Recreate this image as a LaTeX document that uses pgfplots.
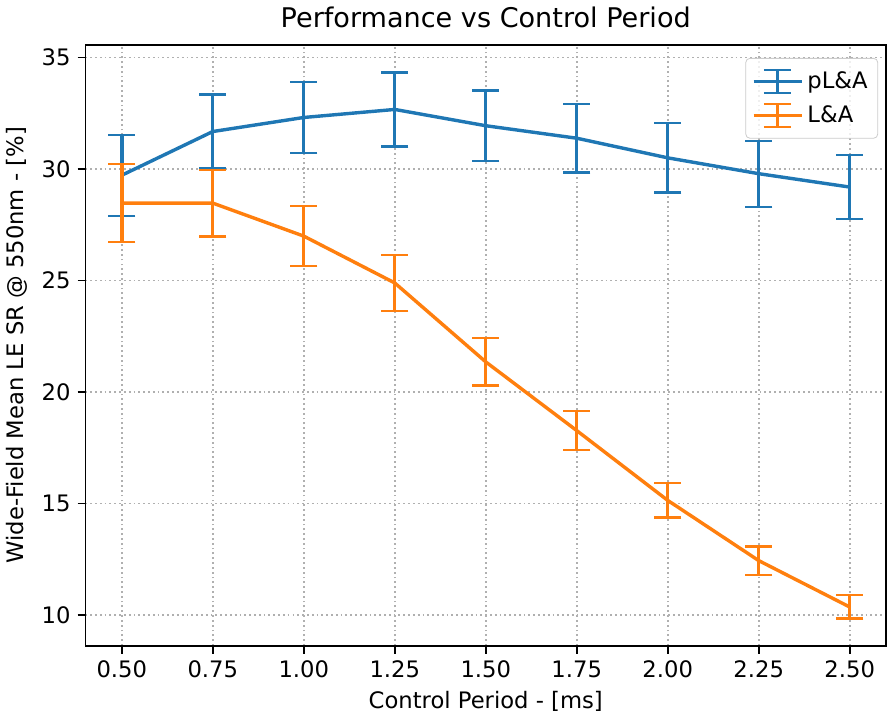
\documentclass[border=0pt]{standalone}
\usepackage{pgfplots}
\pgfplotsset{compat=1.18}
\usepackage{pgfplotstable}
\usepackage{fontspec}
\setmainfont{DejaVu Sans}

\definecolor{mplblue}{HTML}{1F77B4}
\definecolor{mplorange}{HTML}{FF7F0E}
\definecolor{mplgrid}{HTML}{B0B0B0}

% x = control period [ms], y = mean LE SR [%], e = error
\pgfplotstableread{
x    y     e
0.50 29.72 1.82
0.75 31.68 1.66
1.00 32.31 1.59
1.25 32.67 1.66
1.50 31.94 1.58
1.75 31.38 1.54
2.00 30.50 1.55
2.25 29.79 1.48
2.50 29.19 1.45
}\plaTable
\pgfplotstableread{
x    y     e
0.50 28.47 1.74
0.75 28.47 1.50
1.00 26.99 1.35
1.25 24.89 1.25
1.50 21.35 1.06
1.75 18.27 0.88
2.00 15.14 0.77
2.25 12.44 0.63
2.50 10.36 0.52
}\laTable

\begin{document}
\begin{tikzpicture}
\begin{axis}[
  scale only axis,
  width=399pt, height=299.5pt,
  xmin=0.4, xmax=2.6, ymin=8.62, ymax=35.57,
  xtick={0.5,0.75,1.0,1.25,1.5,1.75,2.0,2.25,2.5},
  ytick={10,15,20,25,30,35},
  xticklabel style={/pgf/number format/.cd, fixed, fixed zerofill, precision=2},
  /pgf/number format/assume math mode=true,
  tick label style={font=\fontsize{11.3}{13.5}\selectfont},
  label style={font=\fontsize{11.3}{13.5}\selectfont},
  title style={font=\fontsize{13.5}{16}\selectfont, yshift=-1pt},
  title={Performance vs Control Period},
  xlabel={Control Period - [ms]},
  ylabel={Wide-Field Mean LE SR @ 550nm - [\%]},
  axis line style={line width=0.9pt},
  tick align=outside, major tick length=3.9pt,
  tick style={line width=0.9pt, black},
  xtick pos=bottom, ytick pos=left,
  grid=major,
  major grid style={mplgrid, line width=0.9pt, dash pattern=on 0.9pt off 1.5pt},
  legend cell align=left,
  legend style={at={(0.99,0.978)}, anchor=north east,
    draw=black!20, rounded corners=2pt, fill=white, fill opacity=0.8, text opacity=1,
    font=\fontsize{11.3}{13.5}\selectfont, inner xsep=3pt, inner ysep=4.5pt,
    row sep=3pt},
  legend image code/.code={
    \draw[#1, line width=1.7pt] (0pt,0pt) -- (24pt,0pt);
    \draw[#1, line width=1.7pt] (12pt,-5.8pt) -- (12pt,5.8pt);
    \draw[#1, line width=1.1pt] (5.2pt,-5.8pt) -- (18.8pt,-5.8pt) (5.2pt,5.8pt) -- (18.8pt,5.8pt);
  },
]
\addplot[mplblue, line width=1.7pt, no markers,
  error bars/.cd, y dir=both, y explicit,
  error bar style={line width=1.7pt, mplblue},
  error mark options={rotate=90, mark size=6.8pt, line width=1.1pt, mplblue}]
  table[x=x, y=y, y error=e] {\plaTable};
\addlegendentry{pL\&A}
\addplot[mplorange, line width=1.7pt, no markers,
  error bars/.cd, y dir=both, y explicit,
  error bar style={line width=1.7pt, mplorange},
  error mark options={rotate=90, mark size=6.8pt, line width=1.1pt, mplorange}]
  table[x=x, y=y, y error=e] {\laTable};
\addlegendentry{L\&A}
\end{axis}
\end{tikzpicture}
\end{document}
